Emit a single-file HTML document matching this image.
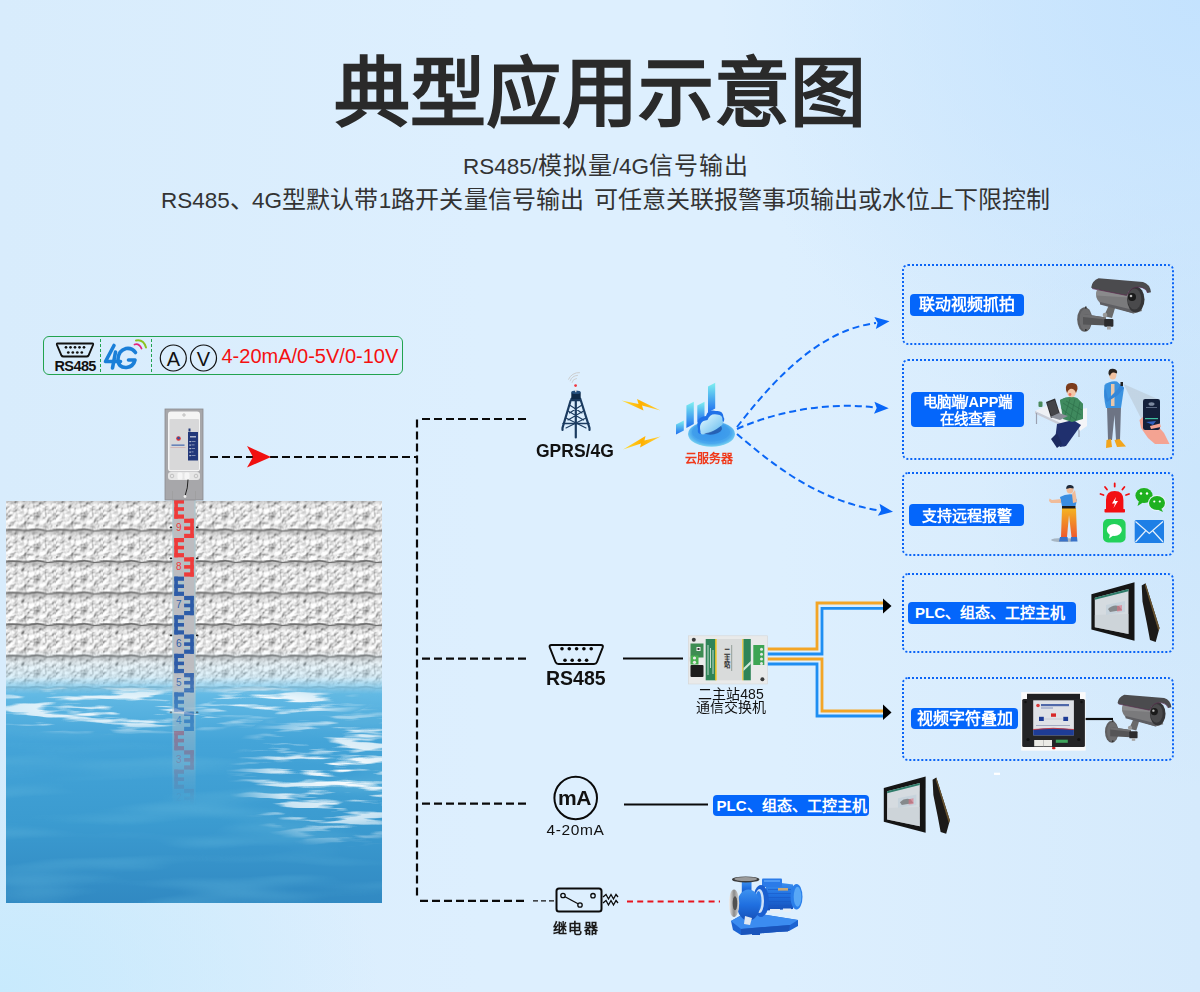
<!DOCTYPE html>
<html lang="zh-CN">
<head>
<meta charset="utf-8">
<title>典型应用示意图</title>
<style>
html,body{margin:0;padding:0;}
body{width:1200px;height:992px;overflow:hidden;position:relative;font-family:"Liberation Sans",sans-serif;
background:
 radial-gradient(ellipse 480px 460px at 1200px 0px, rgba(195,226,254,0.95), rgba(195,226,254,0) 100%),
 radial-gradient(ellipse 220px 320px at 1200px 470px, rgba(200,228,252,0.7), rgba(200,228,252,0) 100%),
 radial-gradient(ellipse 380px 280px at 0px 992px, rgba(199,234,253,0.95), rgba(199,234,253,0) 100%),
 linear-gradient(90deg,#d8ecfc 0%,#ddeffe 40%,#ddeffe 65%,#d5eafc 100%);
}
.abs{position:absolute;}
.title{position:absolute;left:0;width:1200px;top:56px;text-align:center;font-size:76px;font-weight:bold;color:#2a2a2a;line-height:1;}
.sub{position:absolute;left:0;width:1200px;text-align:center;font-size:24px;color:#333;line-height:1;white-space:nowrap;}
.box{position:absolute;left:902px;width:268px;border:2px dotted #0a64f6;border-radius:6px;}
.pill{position:absolute;background:#0466fb;color:#fff;font-weight:bold;border-radius:4px;text-align:center;white-space:nowrap;}
.ll{font-size:22.5px;letter-spacing:0;}
.lbl{position:absolute;white-space:nowrap;color:#111;}
</style>
</head>
<body>
<div class="title">典型应用示意图</div>
<div class="sub" style="top:154px;left:463px;width:auto;letter-spacing:0.9px;"><span class="ll">RS485/</span>模拟量<span class="ll">/4G</span>信号输出</div>
<div class="sub" style="top:188px;left:161px;width:auto;"><span class="ll">RS485</span>、</div>
<div class="sub" style="top:188px;left:252px;width:auto;letter-spacing:0.15px;"><span class="ll">4G</span>型默认带<span class="ll">1</span>路开关量信号输出</div>
<div class="sub" style="top:188px;left:594px;width:auto;">可任意关联报警事项输出或水位上下限控制</div>



<!-- left scene -->
<svg class="abs" style="left:0;top:400px;" width="400" height="510" viewBox="0 400 400 510">
 <defs>
  <filter id="stoneN" x="0" y="0" width="100%" height="100%">
   <feTurbulence type="fractalNoise" baseFrequency="0.22" numOctaves="3" seed="3" result="n"/>
   <feColorMatrix in="n" type="matrix" values="0 0 0 0 0  0 0 0 0 0  0 0 0 0 0  -2.6 0 0 0 1.35" result="a"/>
   <feFlood flood-color="#7a7a7a"/>
   <feComposite in2="a" operator="in"/>
  </filter>
  <filter id="stoneW" x="0" y="0" width="100%" height="100%">
   <feTurbulence type="fractalNoise" baseFrequency="0.05 0.09" numOctaves="2" seed="5" result="n"/>
   <feColorMatrix in="n" type="matrix" values="0 0 0 0 1  0 0 0 0 1  0 0 0 0 1  3 0 0 0 -1.2"/>
  </filter>
  <filter id="tileN" x="0" y="0" width="100%" height="100%">
   <feTurbulence type="fractalNoise" baseFrequency="0.26" numOctaves="3" seed="4" stitchTiles="stitch" result="n"/>
   <feColorMatrix in="n" type="matrix" values="0 0 0 0 0.42  0 0 0 0 0.42  0 0 0 0 0.42  -3.2 0 0 0 1.62"/>
  </filter>
  <filter id="tileW" x="0" y="0" width="100%" height="100%">
   <feTurbulence type="fractalNoise" baseFrequency="0.09" numOctaves="2" seed="9" stitchTiles="stitch" result="n"/>
   <feColorMatrix in="n" type="matrix" values="0 0 0 0 1  0 0 0 0 1  0 0 0 0 1  3.2 0 0 0 -1.35"/>
  </filter>
  <linearGradient id="mortarSh" x1="0" y1="0" x2="0" y2="1">
   <stop offset="0" stop-color="#8a8a8a" stop-opacity="0.55"/>
   <stop offset="1" stop-color="#8a8a8a" stop-opacity="0"/>
  </linearGradient>
  <filter id="embF" x="0" y="0" width="100%" height="100%">
   <feTurbulence type="fractalNoise" baseFrequency="0.16" numOctaves="4" seed="2" stitchTiles="stitch" result="n"/>
   <feDiffuseLighting in="n" surfaceScale="2.6" lighting-color="#ffffff" diffuseConstant="1" result="l"><feDistantLight azimuth="235" elevation="50"/></feDiffuseLighting>
   <feComponentTransfer><feFuncR type="linear" slope="1.08" intercept="-0.03"/><feFuncG type="linear" slope="1.08" intercept="-0.03"/><feFuncB type="linear" slope="1.08" intercept="-0.03"/></feComponentTransfer>
  </filter>
  <pattern id="stoneP" patternUnits="userSpaceOnUse" x="8" y="529.5" width="47" height="31.5">
   <rect width="47" height="31.5" filter="url(#embF)"/>
   <rect y="1" width="47" height="6" fill="url(#mortarSh)"/>
   <path d="M0 0.5 Q6 0 12 0.7 T24 0.5 T36 0.8 T47 0.5" stroke="#707070" stroke-width="1.3" fill="none"/>
   <path d="M0 31.5 Q6 31 12 31.7 T24 31.5 T36 31.8 T47 31.5" stroke="#707070" stroke-width="1.3" fill="none"/>
  </pattern>
  <filter id="waterN" x="0" y="0" width="100%" height="100%">
   <feTurbulence type="fractalNoise" baseFrequency="0.018 0.16" numOctaves="3" seed="7" result="n"/>
   <feColorMatrix in="n" type="matrix" values="0 0 0 0 1  0 0 0 0 1  0 0 0 0 1  6 0 0 0 -2.95"/>
  </filter>
  <filter id="waterD" x="0" y="0" width="100%" height="100%">
   <feTurbulence type="fractalNoise" baseFrequency="0.006 0.045" numOctaves="2" seed="11" result="n"/>
   <feColorMatrix in="n" type="matrix" values="0 0 0 0 0.12  0 0 0 0 0.47  0 0 0 0 0.72  -3 0 0 0 1.6"/>
  </filter>
  <linearGradient id="wg" x1="0" y1="0" x2="0" y2="1">
   <stop offset="0" stop-color="#86cdee"/>
   <stop offset="0.1" stop-color="#62b9e4"/>
   <stop offset="0.3" stop-color="#44a4d8"/>
   <stop offset="0.65" stop-color="#3b9bd0"/>
   <stop offset="1" stop-color="#3189c2"/>
  </linearGradient>
  <linearGradient id="tintS" x1="0" y1="0" x2="0" y2="1">
   <stop offset="0" stop-color="#a8dcf4" stop-opacity="0"/>
   <stop offset="1" stop-color="#a8dcf4" stop-opacity="0.75"/>
  </linearGradient>
  <linearGradient id="fadeS" x1="0" y1="0" x2="0" y2="1">
   <stop offset="0" stop-color="#fff"/>
   <stop offset="0.88" stop-color="#fff"/>
   <stop offset="0.965" stop-color="#000"/>
  </linearGradient>
  <mask id="stoneMask" maskUnits="userSpaceOnUse" x="6" y="501" width="376" height="200"><rect x="6" y="501" width="376" height="200" fill="url(#fadeS)"/></mask>
  <radialGradient id="rgW"><stop offset="0" stop-color="#fff"/><stop offset="0.6" stop-color="#bbb"/><stop offset="1" stop-color="#000"/></radialGradient>
  <mask id="hlM" maskUnits="userSpaceOnUse" x="6" y="660" width="376" height="243">
   <rect x="6" y="660" width="376" height="243" fill="#000"/>
   <ellipse cx="120" cy="708" rx="190" ry="28" fill="url(#rgW)"/>
   <ellipse cx="345" cy="775" rx="120" ry="75" fill="url(#rgW)"/>
   <ellipse cx="270" cy="702" rx="100" ry="18" fill="url(#rgW)"/>
  </mask>
  <linearGradient id="poleFade" x1="0" y1="0" x2="0" y2="1">
   <stop offset="0" stop-color="#fff"/>
   <stop offset="0.55" stop-color="#fff"/>
   <stop offset="0.7" stop-color="#888"/>
   <stop offset="1" stop-color="#000"/>
  </linearGradient>
  <mask id="poleM" maskUnits="userSpaceOnUse" x="160" y="495" width="50" height="310"><rect x="160" y="495" width="50" height="310" fill="url(#poleFade)"/></mask>
 </defs>
 <!-- water -->
 <rect x="6" y="672" width="376" height="231" fill="url(#wg)"/>
 <rect x="6" y="672" width="376" height="231" filter="url(#waterD)" opacity="0.45"/>
 <g mask="url(#hlM)"><rect x="6" y="660" width="376" height="243" filter="url(#waterN)"/></g>
 <!-- stone -->
 <g mask="url(#stoneMask)">
  <rect x="6" y="501" width="376" height="200" fill="url(#stoneP)"/>
  <rect x="6" y="650" width="376" height="51" fill="url(#tintS)"/>
 </g>
 <!-- pole -->
 <g mask="url(#poleM)">
  <rect x="172.5" y="496" width="23" height="310" fill="#bcbcc0"/>
  <g id="emarks"><g fill="#ee3b3b"><rect x="174.3" y="499.4" width="3.6" height="19.3"/><rect x="174.3" y="499.4" width="9.7" height="4.2"/><rect x="174.3" y="507.2" width="9.7" height="3.6"/><rect x="174.3" y="514.5" width="9.7" height="4.2"/><rect x="190.2" y="518.7" width="3.6" height="19.3"/><rect x="184.1" y="518.7" width="9.7" height="4.2"/><rect x="184.1" y="526.5" width="9.7" height="3.6"/><rect x="184.1" y="533.8" width="9.7" height="4.2"/><text x="178.8" y="531.2" font-size="10" text-anchor="middle" font-family="Liberation Sans, sans-serif">9</text></g>
<g fill="#93d3de" opacity="0.9"><rect x="178.1" y="504.7" width="5.9" height="0.55"/><rect x="178.1" y="506.0" width="5.9" height="0.55"/><rect x="178.1" y="512.0" width="5.9" height="0.55"/><rect x="178.1" y="513.3" width="5.9" height="0.55"/><rect x="184.1" y="524.0" width="5.9" height="0.55"/><rect x="184.1" y="525.3" width="5.9" height="0.55"/><rect x="184.1" y="531.3" width="5.9" height="0.55"/><rect x="184.1" y="532.6" width="5.9" height="0.55"/></g>
<g fill="#ee3b3b"><rect x="174.3" y="538.0" width="3.6" height="19.3"/><rect x="174.3" y="538.0" width="9.7" height="4.2"/><rect x="174.3" y="545.8" width="9.7" height="3.6"/><rect x="174.3" y="553.1" width="9.7" height="4.2"/><rect x="190.2" y="557.3" width="3.6" height="19.3"/><rect x="184.1" y="557.3" width="9.7" height="4.2"/><rect x="184.1" y="565.1" width="9.7" height="3.6"/><rect x="184.1" y="572.4" width="9.7" height="4.2"/><text x="178.8" y="569.8" font-size="10" text-anchor="middle" font-family="Liberation Sans, sans-serif">8</text></g>
<g fill="#93d3de" opacity="0.9"><rect x="178.1" y="543.3" width="5.9" height="0.55"/><rect x="178.1" y="544.6" width="5.9" height="0.55"/><rect x="178.1" y="550.6" width="5.9" height="0.55"/><rect x="178.1" y="551.9" width="5.9" height="0.55"/><rect x="184.1" y="562.6" width="5.9" height="0.55"/><rect x="184.1" y="563.9" width="5.9" height="0.55"/><rect x="184.1" y="569.9" width="5.9" height="0.55"/><rect x="184.1" y="571.2" width="5.9" height="0.55"/></g>
<g fill="#2d5ca8"><rect x="174.3" y="576.6" width="3.6" height="19.3"/><rect x="174.3" y="576.6" width="9.7" height="4.2"/><rect x="174.3" y="584.4" width="9.7" height="3.6"/><rect x="174.3" y="591.7" width="9.7" height="4.2"/><rect x="190.2" y="595.9" width="3.6" height="19.3"/><rect x="184.1" y="595.9" width="9.7" height="4.2"/><rect x="184.1" y="603.7" width="9.7" height="3.6"/><rect x="184.1" y="611.0" width="9.7" height="4.2"/><text x="178.8" y="608.4" font-size="10" text-anchor="middle" font-family="Liberation Sans, sans-serif">7</text></g>
<g fill="#93d3de" opacity="0.9"><rect x="178.1" y="581.9" width="5.9" height="0.55"/><rect x="178.1" y="583.2" width="5.9" height="0.55"/><rect x="178.1" y="589.2" width="5.9" height="0.55"/><rect x="178.1" y="590.5" width="5.9" height="0.55"/><rect x="184.1" y="601.2" width="5.9" height="0.55"/><rect x="184.1" y="602.5" width="5.9" height="0.55"/><rect x="184.1" y="608.5" width="5.9" height="0.55"/><rect x="184.1" y="609.8" width="5.9" height="0.55"/></g>
<g fill="#2d5ca8"><rect x="174.3" y="615.2" width="3.6" height="19.3"/><rect x="174.3" y="615.2" width="9.7" height="4.2"/><rect x="174.3" y="623.0" width="9.7" height="3.6"/><rect x="174.3" y="630.3" width="9.7" height="4.2"/><rect x="190.2" y="634.5" width="3.6" height="19.3"/><rect x="184.1" y="634.5" width="9.7" height="4.2"/><rect x="184.1" y="642.3" width="9.7" height="3.6"/><rect x="184.1" y="649.6" width="9.7" height="4.2"/><text x="178.8" y="647.0" font-size="10" text-anchor="middle" font-family="Liberation Sans, sans-serif">6</text></g>
<g fill="#93d3de" opacity="0.9"><rect x="178.1" y="620.5" width="5.9" height="0.55"/><rect x="178.1" y="621.8" width="5.9" height="0.55"/><rect x="178.1" y="627.8" width="5.9" height="0.55"/><rect x="178.1" y="629.1" width="5.9" height="0.55"/><rect x="184.1" y="639.8" width="5.9" height="0.55"/><rect x="184.1" y="641.1" width="5.9" height="0.55"/><rect x="184.1" y="647.1" width="5.9" height="0.55"/><rect x="184.1" y="648.4" width="5.9" height="0.55"/></g>
<g fill="#2d5ca8"><rect x="174.3" y="653.8" width="3.6" height="19.3"/><rect x="174.3" y="653.8" width="9.7" height="4.2"/><rect x="174.3" y="661.6" width="9.7" height="3.6"/><rect x="174.3" y="668.9" width="9.7" height="4.2"/><rect x="190.2" y="673.1" width="3.6" height="19.3"/><rect x="184.1" y="673.1" width="9.7" height="4.2"/><rect x="184.1" y="680.9" width="9.7" height="3.6"/><rect x="184.1" y="688.2" width="9.7" height="4.2"/><text x="178.8" y="685.6" font-size="10" text-anchor="middle" font-family="Liberation Sans, sans-serif">5</text></g>
<g fill="#93d3de" opacity="0.9"><rect x="178.1" y="659.1" width="5.9" height="0.55"/><rect x="178.1" y="660.4" width="5.9" height="0.55"/><rect x="178.1" y="666.4" width="5.9" height="0.55"/><rect x="178.1" y="667.7" width="5.9" height="0.55"/><rect x="184.1" y="678.4" width="5.9" height="0.55"/><rect x="184.1" y="679.7" width="5.9" height="0.55"/><rect x="184.1" y="685.7" width="5.9" height="0.55"/><rect x="184.1" y="687.0" width="5.9" height="0.55"/></g>
<g fill="#2d5ca8"><rect x="174.3" y="692.4" width="3.6" height="19.3"/><rect x="174.3" y="692.4" width="9.7" height="4.2"/><rect x="174.3" y="700.2" width="9.7" height="3.6"/><rect x="174.3" y="707.5" width="9.7" height="4.2"/><rect x="190.2" y="711.7" width="3.6" height="19.3"/><rect x="184.1" y="711.7" width="9.7" height="4.2"/><rect x="184.1" y="719.5" width="9.7" height="3.6"/><rect x="184.1" y="726.8" width="9.7" height="4.2"/><text x="178.8" y="724.2" font-size="10" text-anchor="middle" font-family="Liberation Sans, sans-serif">4</text></g>
<g fill="#93d3de" opacity="0.9"><rect x="178.1" y="697.7" width="5.9" height="0.55"/><rect x="178.1" y="699.0" width="5.9" height="0.55"/><rect x="178.1" y="705.0" width="5.9" height="0.55"/><rect x="178.1" y="706.3" width="5.9" height="0.55"/><rect x="184.1" y="717.0" width="5.9" height="0.55"/><rect x="184.1" y="718.3" width="5.9" height="0.55"/><rect x="184.1" y="724.3" width="5.9" height="0.55"/><rect x="184.1" y="725.6" width="5.9" height="0.55"/></g>
<g fill="#ee3b3b"><rect x="174.3" y="731.0" width="3.6" height="19.3"/><rect x="174.3" y="731.0" width="9.7" height="4.2"/><rect x="174.3" y="738.8" width="9.7" height="3.6"/><rect x="174.3" y="746.1" width="9.7" height="4.2"/><rect x="190.2" y="750.3" width="3.6" height="19.3"/><rect x="184.1" y="750.3" width="9.7" height="4.2"/><rect x="184.1" y="758.1" width="9.7" height="3.6"/><rect x="184.1" y="765.4" width="9.7" height="4.2"/><text x="178.8" y="762.8" font-size="10" text-anchor="middle" font-family="Liberation Sans, sans-serif">3</text></g>
<g fill="#93d3de" opacity="0.9"><rect x="178.1" y="736.3" width="5.9" height="0.55"/><rect x="178.1" y="737.6" width="5.9" height="0.55"/><rect x="178.1" y="743.6" width="5.9" height="0.55"/><rect x="178.1" y="744.9" width="5.9" height="0.55"/><rect x="184.1" y="755.6" width="5.9" height="0.55"/><rect x="184.1" y="756.9" width="5.9" height="0.55"/><rect x="184.1" y="762.9" width="5.9" height="0.55"/><rect x="184.1" y="764.2" width="5.9" height="0.55"/></g>
<g fill="#ee3b3b"><rect x="174.3" y="769.6" width="3.6" height="19.3"/><rect x="174.3" y="769.6" width="9.7" height="4.2"/><rect x="174.3" y="777.4" width="9.7" height="3.6"/><rect x="174.3" y="784.7" width="9.7" height="4.2"/><rect x="190.2" y="788.9" width="3.6" height="19.3"/><rect x="184.1" y="788.9" width="9.7" height="4.2"/><rect x="184.1" y="796.7" width="9.7" height="3.6"/><rect x="184.1" y="804.0" width="9.7" height="4.2"/><text x="178.8" y="801.4" font-size="10" text-anchor="middle" font-family="Liberation Sans, sans-serif">2</text></g>
<g fill="#93d3de" opacity="0.9"><rect x="178.1" y="774.9" width="5.9" height="0.55"/><rect x="178.1" y="776.2" width="5.9" height="0.55"/><rect x="178.1" y="782.2" width="5.9" height="0.55"/><rect x="178.1" y="783.5" width="5.9" height="0.55"/><rect x="184.1" y="794.2" width="5.9" height="0.55"/><rect x="184.1" y="795.5" width="5.9" height="0.55"/><rect x="184.1" y="801.5" width="5.9" height="0.55"/><rect x="184.1" y="802.8" width="5.9" height="0.55"/></g>
<rect x="172.6" y="496" width="0.7" height="310" fill="#9fd6e0" opacity="0.8"/><rect x="194.6" y="496" width="0.7" height="310" fill="#9fd6e0" opacity="0.8"/>
<g fill="#222"><rect x="169.8" y="526.5" width="2.4" height="1.8" rx="0.6"/><rect x="196" y="526.5" width="2.4" height="1.8" rx="0.6"/><rect x="169.8" y="557.5" width="2.4" height="1.8" rx="0.6"/><rect x="196" y="557.5" width="2.4" height="1.8" rx="0.6"/><rect x="169.8" y="634.5" width="2.4" height="1.8" rx="0.6"/><rect x="196" y="634.5" width="2.4" height="1.8" rx="0.6"/><rect x="169.8" y="711.5" width="2.4" height="1.8" rx="0.6"/><rect x="196" y="711.5" width="2.4" height="1.8" rx="0.6"/></g></g>
 </g>
 <!-- device -->
 <rect x="165" y="409" width="38" height="91" fill="#a7a7aa" stroke="#8a8a8e" stroke-width="0.8"/>
 <rect x="168" y="411.5" width="32" height="60" rx="3" fill="#f4f4f4"/>
 <rect x="169.5" y="419" width="29.5" height="51" rx="1" fill="#d8d8d9"/>
 <circle cx="184" cy="415" r="1.2" fill="none" stroke="#999" stroke-width="0.6"/>
 <rect x="188" y="432" width="10" height="28.5" fill="#23387a"/>
 <rect x="188.5" y="428.5" width="2" height="3" fill="#23387a"/>
 <g fill="#fff" opacity="0.9"><rect x="189.5" y="441" width="1.2" height="1.2"/><rect x="189.5" y="444.5" width="1.2" height="1.2"/><rect x="189.5" y="448" width="1.2" height="1.2"/><rect x="189.5" y="451.5" width="1.2" height="1.2"/><rect x="189.5" y="455" width="1.2" height="1.2"/>
 <rect x="191.5" y="441" width="4" height="0.8" opacity="0.6"/><rect x="191.5" y="444.5" width="3" height="0.8" opacity="0.6"/><rect x="191.5" y="448" width="3.5" height="0.8" opacity="0.6"/><rect x="191.5" y="451.5" width="2" height="0.8" opacity="0.6"/><rect x="191.5" y="455" width="4" height="0.8" opacity="0.6"/>
 <rect x="190" y="436" width="6" height="1.5" opacity="0.7"/></g>
 <circle cx="178.5" cy="438.5" r="2.3" fill="#d8313a"/>
 <circle cx="178.5" cy="438" r="1.3" fill="#2a56a8"/>
 <rect x="171.5" y="444.5" width="13" height="1.3" fill="#2a56a8" opacity="0.8"/>
 <rect x="170.5" y="447" width="15" height="0.5" fill="#c88" opacity="0.8"/>
 <rect x="168" y="472" width="32" height="8" rx="3" fill="#e6e6e6"/>
 <circle cx="172" cy="476" r="1.8" fill="none" stroke="#aaa" stroke-width="0.6"/>
 <circle cx="196" cy="476" r="1.8" fill="none" stroke="#aaa" stroke-width="0.6"/>
 <rect x="177.5" y="472.5" width="5" height="7" rx="1.5" fill="#f6f6f6"/><rect x="184.5" y="472.5" width="5" height="7" rx="1.5" fill="#f6f6f6"/>
 <path d="M188 479.5 Q188 488 185 496" stroke="#222" stroke-width="1" fill="none"/>
 <circle cx="185" cy="496.5" r="1.4" fill="#eee"/>
 <line x1="172.5" y1="491" x2="172.5" y2="500" stroke="#999" stroke-width="0.5"/>
 <line x1="195.5" y1="491" x2="195.5" y2="500" stroke="#999" stroke-width="0.5"/>
</svg>

<!-- info box -->
<div class="abs" style="left:43px;top:336px;width:358px;height:37px;border:1.5px solid #22a34f;border-radius:6px;"></div>
<svg class="abs" style="left:40px;top:330px;" width="370" height="50" viewBox="40 330 370 50">
 <!-- DB9 -->
 <path d="M57.5 343.5 H92.5 Q93.5 343.5 93 345 L88.5 355.5 Q88 356.5 86.5 356.5 H63.5 Q62 356.5 61.5 355.5 L57 345 Q56.5 343.5 57.5 343.5 Z" fill="none" stroke="#111" stroke-width="1.9"/>
 <g fill="#111"><circle cx="66" cy="347.3" r="1.35"/><circle cx="70.5" cy="347.3" r="1.35"/><circle cx="75" cy="347.3" r="1.35"/><circle cx="79.5" cy="347.3" r="1.35"/><circle cx="84" cy="347.3" r="1.35"/>
 <circle cx="68.3" cy="352.5" r="1.35"/><circle cx="72.8" cy="352.5" r="1.35"/><circle cx="77.3" cy="352.5" r="1.35"/><circle cx="81.8" cy="352.5" r="1.35"/></g>
 <!-- separators -->
 <line x1="100.5" y1="339" x2="100.5" y2="373" stroke="#22a34f" stroke-width="1" stroke-dasharray="3 2"/>
 <line x1="151.5" y1="339" x2="151.5" y2="373" stroke="#22a34f" stroke-width="1" stroke-dasharray="3 2"/>
 <!-- 4G -->
 <g fill="none" stroke="#1a7fd8" stroke-width="3.6" stroke-linecap="round" stroke-linejoin="round">
  <path d="M114 345.5 L105.5 361.5 H120.5"/>
  <path d="M115.5 352 L112.5 368"/>
  <path d="M135.5 352.5 Q132 347.5 126 348.5 Q118.5 350.5 118 359 Q118 368 126.5 367.5 Q133.5 366.5 135 360 H128.5"/>
 </g>
 <path d="M134.5 344.5 Q139 343 141.5 348.5" fill="none" stroke="#e4247e" stroke-width="1.8" stroke-linecap="round"/>
 <path d="M136 340.5 Q143.5 339 146 347.5" fill="none" stroke="#8cc21f" stroke-width="2" stroke-linecap="round"/>
 <!-- A V circles -->
 <circle cx="173.3" cy="358" r="13" fill="none" stroke="#111" stroke-width="1.2"/>
 <circle cx="203.5" cy="358" r="13" fill="none" stroke="#111" stroke-width="1.2"/>
 <text x="173.3" y="365.5" text-anchor="middle" font-family="Liberation Sans, sans-serif" font-size="20" fill="#111">A</text>
 <text x="203.5" y="365.5" text-anchor="middle" font-family="Liberation Sans, sans-serif" font-size="20" fill="#111">V</text>
</svg>
<div class="lbl" style="left:54.5px;top:358px;font-size:14.5px;font-weight:bold;line-height:16px;letter-spacing:-0.6px;">RS485</div>
<div class="lbl" style="left:221.5px;top:344.5px;font-size:20px;line-height:22px;color:#f51010;">4-20mA/0-5V/0-10V</div>


<!-- connectors overlay -->
<svg class="abs" style="left:0;top:0;" width="1200" height="992" viewBox="0 0 1200 992">
 <defs>
  <path id="arrowB" d="M0 0 L-14.5 -6 L-12 0 L-14.5 6 Z"/>
 </defs>
 <g stroke="#0a0a0a" stroke-width="2.2" fill="none" stroke-dasharray="8 4">
  <path d="M210 457 H416"/>
  <path d="M417 419.6 V897"/>
  <path d="M422 419 H527"/>
  <path d="M422 658.7 H527"/>
  <path d="M422 803.6 H527"/>
  <path d="M420 900.8 H527"/>
 </g>
 <path d="M533 900.8 H556" stroke="#111" stroke-width="1.3" stroke-dasharray="5 3" fill="none"/>
 <path d="M247 446 L271 457 L247 467.5 L253 457 Z" fill="#f01010"/>
 <g stroke="#0a0a0a" stroke-width="2.2" fill="none">
  <path d="M623 658.5 H683"/>
  <path d="M624 804.5 H708"/>
  <path d="M1085 719 H1113"/>
 </g>
 <path d="M627 901.5 H720" stroke="#e8141e" stroke-width="2.2" stroke-dasharray="6 4.2" fill="none"/>
 <!-- wires -->
 <g fill="none" stroke-width="2.8">
  <path d="M764 649 H817 V603 H884" stroke="#f3a526"/>
  <path d="M764 654 H822 V608.3 H884" stroke="#1e8ef2"/>
  <path d="M764 659 H822 V711 H884" stroke="#f3a526"/>
  <path d="M764 664 H817 V716 H884" stroke="#1e8ef2"/>
 </g>
 <path d="M883 598.5 L891.5 606 L883 613.5 Z" fill="#000"/>
 <path d="M883 704.5 L891.5 712.5 L883 720 Z" fill="#000"/>
 <!-- blue curves -->
 <g fill="none" stroke="#0a66f6" stroke-width="2" stroke-dasharray="7 4">
  <path d="M737 427 C775 378 820 330 876 323"/>
  <path d="M737 429 C780 410 830 402 876 407.5"/>
  <path d="M737 434 C770 462 815 500 879 510.5"/>
 </g>


 <!-- DB9 RS485 -->
 <path d="M551.5 645 H601 Q603.5 645 602.7 647.5 L597 662 Q596.2 664 594 664 H558.5 Q556.3 664 555.5 662 L549.8 647.5 Q549 645 551.5 645 Z" fill="none" stroke="#0a0a0a" stroke-width="2"/>
 <g fill="#0a0a0a"><circle cx="562" cy="648.8" r="1.8"/><circle cx="569.3" cy="648.8" r="1.8"/><circle cx="576.6" cy="648.8" r="1.8"/><circle cx="583.9" cy="648.8" r="1.8"/><circle cx="591.2" cy="648.8" r="1.8"/>
 <circle cx="565" cy="660.3" r="1.8"/><circle cx="572.2" cy="660.3" r="1.8"/><circle cx="579.4" cy="660.3" r="1.8"/><circle cx="586.6" cy="660.3" r="1.8"/></g>
 <!-- mA circle -->
 <circle cx="575.7" cy="798" r="21.3" fill="none" stroke="#0a0a0a" stroke-width="2"/>
 <!-- relay -->
 <rect x="556.5" y="888.5" width="45" height="23" rx="2.5" fill="none" stroke="#0a0a0a" stroke-width="2"/>
 <g fill="none" stroke="#0a0a0a" stroke-width="1.3">
  <circle cx="563" cy="895.5" r="2.2"/><circle cx="580" cy="905" r="2.2"/><circle cx="593" cy="895.7" r="2.2"/>
  <path d="M565 896.7 L578 903.8"/>
  <path d="M603 897 L606 894.5 L608.5 899 L611 894.5 L613.5 899 L616 894.5 L618 897"/>
  <path d="M603 903 L606 900.5 L608.5 905 L611 900.5 L613.5 905 L616 900.5 L618 903"/>
 </g>
 <!-- tower -->
 <g>
  <g fill="none" stroke="#c9c9c9" stroke-width="0.9" stroke-linecap="round">
   <path d="M572 382.5 A5 5 0 0 1 576.5 378.5"/>
   <path d="M570.2 380.8 A8 8 0 0 1 577.5 375.4"/>
   <path d="M568.5 379.3 A11 11 0 0 1 579.5 372.6"/>
  </g>
  <circle cx="575.6" cy="385.6" r="1.4" fill="#f2353f"/>
  <rect x="575" y="387" width="1.3" height="5" fill="#f0f0f0"/>
  <g stroke="#1b3b60" fill="none" stroke-linecap="round">
   <path d="M570.5 401 L562.5 428 V430" stroke-width="2.2"/>
   <path d="M581 401 L589.5 428 V430" stroke-width="2.2"/>
   <path d="M575.8 400 V437.5" stroke-width="2.2"/>
   <path d="M563 423.5 H589" stroke-width="1.3"/>
   <path d="M569.5 405 L582 413 M582 405 L569.5 413 M568 411 L583.5 420 M583.5 411 L568 420 M566 418 L586 428 M586 418 L566 428" stroke-width="1.1"/>
  </g>
  <rect x="570.2" y="397.5" width="11.4" height="3.8" rx="1.8" fill="#1b3b60"/>
  <rect x="571.3" y="392" width="9.4" height="7" rx="1" fill="#0f2a48"/>
  <ellipse cx="576" cy="392.3" rx="4.7" ry="1.8" fill="#234e7c"/>
  <rect x="575.2" y="389" width="1.2" height="3.2" fill="#eaeaea"/>
 </g>
 <!-- lightning -->
 <defs>
  <linearGradient id="ltg" x1="0" y1="0" x2="1" y2="0"><stop offset="0" stop-color="#ffe13a"/><stop offset="0.5" stop-color="#ffb000"/><stop offset="1" stop-color="#ffd23a"/></linearGradient>
 </defs>
 <path d="M621.5 400.5 L638.5 404 L637 399 L660.5 410.5 L642 405.5 L643.5 410.5 Z" fill="url(#ltg)"/>
 <path d="M623 449.5 L641 443.5 L640 447.5 L660.5 436.5 L644.5 440.5 L645.5 436 Z" fill="url(#ltg)"/>
 <!-- cloud server -->
 <defs>
  <linearGradient id="barg" x1="0" y1="0" x2="0" y2="1"><stop offset="0" stop-color="#7ef0f0"/><stop offset="1" stop-color="#1f6ff0"/></linearGradient>
  <radialGradient id="baseg" cx="0.5" cy="0.45" r="0.6"><stop offset="0" stop-color="#2c8ef0"/><stop offset="0.7" stop-color="#4aa8ee"/><stop offset="1" stop-color="#8ee6f2"/></radialGradient>
  <linearGradient id="cldg" x1="0" y1="0" x2="1" y2="1"><stop offset="0" stop-color="#e8fbff"/><stop offset="1" stop-color="#5fb8ee"/></linearGradient>
 </defs>
 <path d="M676 424.5 L683.8 420.5 V430.5 L676 434.5 Z" fill="url(#barg)"/>
 <path d="M686.4 405.5 L693.8 401.8 V424 L686.4 428 Z" fill="url(#barg)"/>
 <path d="M697.3 405.5 L704.5 401.8 V418 L697.3 422 Z" fill="url(#barg)"/>
 <path d="M708 386.5 L715.2 382.8 V408.5 L708 412.5 Z" fill="url(#barg)"/>
 <ellipse cx="711.5" cy="434" rx="23.5" ry="12.8" fill="url(#baseg)"/>
 <ellipse cx="711" cy="432" rx="19" ry="9.5" fill="#3c9aea" opacity="0.6"/>
 <path d="M698 429 Q695 417 706 416 Q708 409 716 411 Q723 410 723.5 417 Q726 420 721 425 Q712 433 700 434 Q697 433 698 429 Z" fill="#1f70e8"/>
 <path d="M700.5 431.5 Q698 421 707.5 420 Q710 413 717 414.5 Q723 414.5 722.5 420.5 Q725 424 718 428 Q712 433 703 434.5 Q700 434 700.5 431.5 Z" fill="url(#cldg)"/>
 <path d="M704 433.5 Q714 432 721 426 Q724 430 718 433 Q711 436 704 433.5 Z" fill="#1b3d8f" opacity="0.6"/>
 <g fill="#0866f8">
  <use href="#arrowB" transform="translate(889.5 321.3) rotate(-7)"/>
  <use href="#arrowB" transform="translate(888.7 408.3) rotate(2)"/>
  <use href="#arrowB" transform="translate(893 511.8) rotate(8)"/>
 </g>
</svg>


<div class="lbl" style="left:536px;top:440.5px;font-size:17.5px;font-weight:bold;line-height:20px;">GPRS/4G</div>
<div class="lbl" style="left:685px;top:452px;font-size:12px;font-weight:bold;line-height:14px;color:#f0381a;">云服务器</div>


<div class="lbl" style="left:546px;top:667px;font-size:19.5px;font-weight:bold;line-height:22px;">RS485</div>
<div class="lbl" style="left:558px;top:786px;font-size:21px;font-weight:bold;line-height:24px;letter-spacing:-0.5px;">mA</div>
<div class="lbl" style="left:546.5px;top:822px;font-size:15.5px;line-height:16px;letter-spacing:0.6px;font-weight:500;">4-20mA</div>
<div class="lbl" style="left:552.5px;top:918.5px;font-size:14px;font-weight:bold;line-height:18px;color:#1a1a1a;letter-spacing:1.6px;">继电器</div>
<div class="lbl" style="left:696px;top:687.5px;font-size:14px;line-height:13.5px;text-align:center;width:70px;font-weight:500;">二主站485<br>通信交换机</div>

<!-- right boxes -->
<div class="box" style="top:264px;height:77px;"></div>
<div class="box" style="top:359px;height:97px;"></div>
<div class="box" style="top:472px;height:80px;"></div>
<div class="box" style="top:573px;height:76px;"></div>
<div class="box" style="top:677px;height:80px;"></div>

<div class="pill" style="left:910px;top:294px;width:114px;height:22px;line-height:22px;font-size:16px;">联动视频抓拍</div>
<div class="pill" style="left:911px;top:392px;width:113px;height:35px;line-height:17.5px;font-size:14.5px;padding-top:1.5px;box-sizing:border-box;">电脑端/APP端<br>在线查看</div>
<div class="pill" style="left:909px;top:504px;width:115px;height:22px;line-height:23px;font-size:15px;">支持远程报警</div>
<div class="pill" style="left:908px;top:602px;width:168px;height:22px;line-height:22px;font-size:15px;text-align:left;padding-left:7px;box-sizing:border-box;">PLC、组态、工控主机</div>
<div class="pill" style="left:911px;top:708px;width:107px;height:21px;line-height:22px;font-size:16px;">视频字符叠加</div>
<div class="pill" style="left:713px;top:795px;width:156px;height:21px;line-height:21px;font-size:15px;text-align:left;padding-left:3.5px;box-sizing:border-box;">PLC、组态、工控主机</div>


<!-- icons overlay -->
<svg class="abs" style="left:0;top:0;" width="1200" height="992" viewBox="0 0 1200 992">
 <defs>
  <g id="cam">
   <ellipse cx="1084.7" cy="319.5" rx="7.5" ry="12.2" fill="#5f5f61"/>
   <ellipse cx="1085.5" cy="319.5" rx="6" ry="10.8" fill="#6c6c6e"/>
   <rect x="1085" y="306.5" width="1.6" height="2" fill="#333"/><rect x="1085" y="329" width="1.6" height="2" fill="#333"/>
   <path d="M1083 314 L1106 317.5 L1106 325.5 L1083 324.5 Z" fill="#555557"/>
   <path d="M1083 314 L1106 317.5 L1106 319.5 L1083 317 Z" fill="#6e6e70"/>
   <path d="M1104 316 L1109 305 L1116 305 L1112 318 Z" fill="#6a6a6a"/>
   <circle cx="1105" cy="315" r="2.3" fill="#9a9a9a"/>
   <rect x="1104.2" y="318.9" width="9.2" height="7.8" rx="1" fill="#2c2c2e"/>
   <rect x="1107" y="326.5" width="3.8" height="3" fill="#a8a8a8"/>
   <path d="M1097 290 L1136 292.5 L1142 311 L1133.6 313.5 L1100 303 Q1094 297 1097 290 Z" fill="#7a7a7c"/>
   <path d="M1097 290 L1136 292.5 L1137 298 L1096 295.5 Z" fill="#8a8a8c"/>
   <path d="M1100 302 L1133.6 310 L1133.6 313.5 L1100 304.5 Z" fill="#5e5e62"/>
   <ellipse cx="1135.8" cy="299.5" rx="8.7" ry="13" fill="#353537"/>
   <ellipse cx="1134.5" cy="299" rx="6.8" ry="10.5" fill="#4a4a4c"/>
   <circle cx="1132" cy="297" r="4" fill="#1a1a1a"/>
   <circle cx="1131" cy="296" r="1.3" fill="#bbb"/>
   <path d="M1091.2 287.4 Q1092 281 1098.6 278.3 L1143 282 Q1150 284 1151 292.3 L1147.6 293 Q1146 288 1140 287.2 Q1131 286 1126.6 295.4 L1092.3 288.6 Z" fill="#4b4b4e"/>
   <path d="M1092.3 288.6 L1126.6 295.4 Q1131 286 1140 287.2 Q1146 288 1147.6 293" fill="none" stroke="#5b2a4e" stroke-width="0.7"/>
  </g>
  <g id="mon">
   <path d="M1091.4 594.3 L1134.5 582.2 L1134.5 640.8 L1091.4 629.5 Z" fill="#151515"/>
   <path d="M1094.8 597.7 L1128.5 589 L1128.5 634 L1094.8 627.2 Z" fill="#d5dbe0"/>
   <path d="M1094.8 597.7 L1128.5 589 L1128.5 591.2 L1094.8 599.7 Z" fill="#2e7c6a"/>
   <path d="M1106 605 L1125 601 L1125 612 L1106 615 Z" fill="#c7d3dc"/>
   <path d="M1108 609 Q1113 604 1119 606 L1122 610 L1110 612 Z" fill="#6a6a6a" opacity="0.7"/>
   <path d="M1117 606 L1122 605 L1122 611 L1117 611.5 Z" fill="#e07080" opacity="0.6"/>
   <path d="M1094.8 615 L1128.5 614 L1128.5 634 L1094.8 627.2 Z" fill="#c8ced4" opacity="0.6"/>
   <path d="M1141.7 585.6 L1145.5 583.3 L1159.5 628 L1155.7 642 L1150 640 L1147 624 L1142.5 601.5 Z" fill="#1c1a18"/>
   <path d="M1145.5 583.3 L1159.5 628 L1158.5 631 L1145 586 Z" fill="#6a5430"/>
  </g>
 </defs>
 <use href="#cam"/>
 <use href="#cam" transform="translate(1100.3 689.1) scale(0.9) translate(-1072 -272)"/>
 <use href="#mon"/>
 <use href="#mon" transform="translate(883.8 776.4) scale(0.97 0.96) translate(-1091.4 -582.2)"/>


 <!-- box2: sitting person -->
 <g>
  <path d="M1035 411 L1050 404 L1082 418 L1067 426 Z" fill="#eef0f4"/>
  <path d="M1035 411 L1067 426 L1067 428.5 L1035 413.5 Z" fill="#c9ccd6"/>
  <path d="M1036.5 413 V424" stroke="#9aa0b0" stroke-width="1.2"/>
  <path d="M1064 427.5 V447" stroke="#9aa0b0" stroke-width="1.2"/>
  <path d="M1079 421 V437" stroke="#9aa0b0" stroke-width="1.2"/>
  <rect x="1038.5" y="401.5" width="4" height="5.5" rx="1" fill="#4a8a5a"/>
  <path d="M1078 410 L1087 408 L1087 426 L1080 431 L1077 424 Z" fill="#f4f5f8"/>
  <path d="M1057 424 L1073 420 L1081 425 L1066 446 L1060 447 L1055 440 Z" fill="#20306e"/>
  <path d="M1051 439 L1057 433 L1062 444 L1057 448 Z" fill="#1c2a60"/>
  <path d="M1060 400 Q1068 395 1077 398 L1083 404 L1083 419 L1072 422 L1063 419 Z" fill="#3f8a5e"/>
  <g stroke="#2a6a46" stroke-width="0.6" opacity="0.9"><path d="M1063 403 L1081 415 M1066 401 L1082 410 M1062 409 L1076 420 M1070 399 L1064 418 M1075 399 L1070 420 M1080 402 L1076 420"/></g>
  <path d="M1046 402 L1055 398.5 L1060 414 L1051 418 Z" fill="#2d2d30"/>
  <path d="M1047 403 L1054.5 400 L1059 413 L1051.5 416 Z" fill="#444448"/>
  <path d="M1050 417 L1059 413 L1068 416 L1060 420 Z" fill="#8a8e98"/>
  <ellipse cx="1071.5" cy="392" rx="4.5" ry="5.2" fill="#f3c6a8"/>
  <path d="M1066 390 Q1065 383 1071 383 Q1078 382 1077.5 389 L1076 393 Q1074 388 1070 389 Q1068 390 1067 393 Z" fill="#7b3b1c"/>
  <circle cx="1070" cy="394.5" r="1.4" fill="#e84a3a" opacity="0.7"/>
 </g>
 <!-- box2: standing person -->
 <g>
  <path d="M1123.5 384 L1160 400 L1148 432 Z" fill="#b8c4d0" opacity="0.55"/>
  <path d="M1107 407 L1121 407 L1120 440 L1116 440 L1114.5 415 L1112 440 L1108 440 Z" fill="#6d7484"/>
  <path d="M1106.5 440 L1111 439 L1112 447 L1106 448 Z" fill="#f2a51c"/>
  <path d="M1114.5 440 L1119.5 439 L1126 446.5 L1117 447 Z" fill="#f2a51c"/>
  <path d="M1104.5 385 Q1110 380.5 1117 381.5 L1124 388 L1121 408 L1106 408 Q1103 396 1104.5 385 Z" fill="#3a92e0"/>
  <rect x="1111" y="384" width="3.5" height="22" fill="#e8c6a8"/>
  <path d="M1105.5 388 L1108 399 L1118 389 L1121 383.5 L1124 388 L1118 395 L1107 402 Q1103 398 1105.5 388 Z" fill="#3486d8"/>
  <ellipse cx="1112.8" cy="375" rx="3.7" ry="4.6" fill="#f0c2a2"/>
  <path d="M1108.5 374 Q1108 368.5 1113 368.8 Q1118 369.5 1117 373.5 L1114 372.5 Q1111 372 1110 376 Z" fill="#2a2420"/>
  <rect x="1120.5" y="382" width="2.5" height="4" fill="#222"/>
  <path d="M1139.5 420 L1144 416 L1157 425 L1164 433 L1169.5 444 L1155 444 L1148 438 L1141 428 Z" fill="#f4a392"/>
  <rect x="1143" y="399" width="17" height="31" rx="2.2" fill="#14203a"/>
  <rect x="1145" y="418" width="13" height="1.2" fill="#3fc0a0"/>
  <ellipse cx="1151.5" cy="404" rx="3" ry="1.8" fill="#7d8aa0"/>
  <rect x="1146" y="407" width="11" height="1" fill="#5c6a84"/>
  <path d="M1146 422 L1156 421 L1153 425 Z" fill="#3060c0"/>
  <path d="M1150 426 L1160 423.5 L1161 427 L1151 429 Z" fill="#f4a392"/>
 </g>
 <!-- box3: person -->
 <g>
  <defs><linearGradient id="pantsG" x1="0" y1="0" x2="0" y2="1"><stop offset="0" stop-color="#f4b523"/><stop offset="1" stop-color="#ee5a2e"/></linearGradient></defs>
  <ellipse cx="1063" cy="540" rx="12" ry="2" fill="#555" opacity="0.35"/>
  <path d="M1062 508 L1076 508 L1077 537 L1071.5 537 L1069 515 L1067 537 L1061 537 Z" fill="url(#pantsG)"/>
  <rect x="1062" y="506" width="13.5" height="2.5" fill="#1a1a1a"/>
  <path d="M1060 497 Q1066 493.5 1073 494.5 L1077 500 L1075.5 506 L1062 506 Z" fill="#3a8de0"/>
  <path d="M1061 499 L1052 500 L1049.5 498.5 L1049 501 L1051 503 L1061 503 Z" fill="#f0bc9a"/>
  <path d="M1072 494 L1075 490 L1077 502 L1073 503 Z" fill="#f0bc9a"/>
  <ellipse cx="1070" cy="489.5" rx="3.5" ry="4" fill="#f0bc9a"/>
  <path d="M1066.2 489 Q1066 484.5 1070.5 485 Q1074.5 485.5 1073.5 488.5 L1070 488 Z" fill="#1f2a3a"/>
  <path d="M1060 537 L1067.5 537 L1068 541.5 L1059 541.5 Z" fill="#3a72c8"/>
  <path d="M1071 537 L1077 537 L1077.5 541.5 L1070.5 541.5 Z" fill="#3a72c8"/>
 </g>
 <!-- alarm -->
 <g fill="#f30f12">
  <path d="M1106 509 V500 Q1106 491 1114.7 491 Q1123.4 491 1123.4 500 V509 Z"/>
  <rect x="1104.5" y="509" width="20.5" height="3.5" rx="0.8"/>
  <g stroke="#f30f12" stroke-width="1.8" stroke-linecap="round"><path d="M1114.7 483.5 V486.5 M1105 487 L1107 489.5 M1124.4 487 L1122.4 489.5 M1100.5 494 L1103.5 495 M1129 494 L1126 495"/></g>
 </g>
 <path d="M1116 497 L1112 503.5 H1115 L1113.5 508 L1118 501 H1115 Z" fill="#fff"/>
 <!-- wechat -->
 <g fill="#1fb11f">
  <ellipse cx="1144" cy="495.5" rx="8.6" ry="7.6"/>
  <path d="M1139 501 L1137.5 506 L1143 502.5 Z"/>
 </g>
 <ellipse cx="1157" cy="503" rx="9" ry="8" fill="#e8f3fc"/>
 <g fill="#1fb11f">
  <ellipse cx="1157" cy="503" rx="8" ry="7"/>
  <path d="M1161 508 L1163 512 L1157.5 509.5 Z"/>
 </g>
 <g fill="#fff"><circle cx="1141" cy="493.5" r="1.2"/><circle cx="1147" cy="493.5" r="1.2"/><circle cx="1154.3" cy="501.5" r="1.1"/><circle cx="1159.8" cy="501.5" r="1.1"/></g>
 <!-- message -->
 <rect x="1103" y="519" width="22.6" height="23.5" rx="5" fill="#23d15a"/>
 <ellipse cx="1114.3" cy="530" rx="7.5" ry="6" fill="#fff"/>
 <path d="M1110 534 L1109 538.5 L1114 535 Z" fill="#fff"/>
 <!-- mail -->
 <rect x="1134.7" y="520" width="29.3" height="23" rx="1.5" fill="#1e7fe6"/>
 <path d="M1135.5 521.5 L1149.3 533.5 L1163 521.5 M1135.5 542 L1145.5 531 M1163 542 L1153 531" fill="none" stroke="#e6f0fb" stroke-width="1.2"/>
 <!-- video overlay box -->
 <rect x="1021.2" y="692.1" width="64.4" height="58.6" fill="#fafafa"/>
 <rect x="1027" y="693.8" width="53" height="6" fill="#202022"/>
 <rect x="1022.2" y="699" width="62.7" height="48" rx="1.5" fill="#242426"/>
 <rect x="1033.2" y="700.3" width="40.7" height="35" fill="#dfe2e7"/>
 <path d="M1033.2 729.5 Q1053 727 1073.9 729.5 V735.3 H1033.2 Z" fill="#1e3c96"/>
 <path d="M1033.2 729.5 Q1053 727 1073.9 729.5" stroke="#d83030" stroke-width="0.8" fill="none"/>
 <circle cx="1038" cy="705.5" r="1.8" fill="#d83a3a"/>
 <rect x="1041" y="704" width="28" height="2.2" fill="#2a4a9a" opacity="0.8"/>
 <rect x="1041" y="707.5" width="12" height="1" fill="#2a4a9a" opacity="0.5"/>
 <rect x="1051" y="713.4" width="5" height="3.4" fill="#d82828"/>
 <rect x="1039" y="716.8" width="4.8" height="4.2" fill="#1e3c96"/>
 <rect x="1063.3" y="716.8" width="4.8" height="4.2" fill="#1e3c96"/>
 <path d="M1044 719 H1063" stroke="#b8c0cc" stroke-width="0.6"/>
 <rect x="1036" y="725" width="34" height="0.8" fill="#4a5a90" opacity="0.5"/>
 <rect x="1034.2" y="740" width="17.8" height="6.3" fill="#ecebe6"/>
 <rect x="1043" y="740" width="0.6" height="6.3" fill="#aaa"/>
 <rect x="1055.8" y="739.7" width="12" height="3.1" fill="#3fa55c"/>
 <circle cx="1025.5" cy="702" r="1.2" fill="#111"/><circle cx="1081.5" cy="702" r="1.2" fill="#111"/>
 <circle cx="1028" cy="739.5" r="1.6" fill="#111"/><circle cx="1078.8" cy="739.5" r="1.6" fill="#111"/>
 <rect x="1052" y="747" width="3.5" height="2.2" rx="1" fill="#c82020"/>

 <rect x="994" y="772.7" width="6" height="2.2" fill="#fff"/>
 <!-- switch module -->
 <rect x="688.3" y="635.8" width="79.3" height="48.2" fill="#e9eaea"/>
 <rect x="688.3" y="635.8" width="79.3" height="48.2" fill="none" stroke="#d5d5d5" stroke-width="0.6"/>
 <circle cx="693.8" cy="639.8" r="2" fill="#3a3a3a"/>
 <circle cx="762.4" cy="679.2" r="2" fill="#3a3a3a"/>
 <rect x="690.5" y="643.5" width="13" height="14" fill="#3d8c52"/>
 <rect x="696.5" y="647" width="4" height="4" fill="#f0f0f0"/><rect x="697.5" y="648" width="2" height="2" fill="#333"/>
 <path d="M688 659 L691 655.5 L691 664 Z" fill="#ddd"/>
 <rect x="690.5" y="655.5" width="8" height="9" fill="#47b04f"/>
 <circle cx="694.5" cy="658" r="1.6" fill="#e8e8e8"/><circle cx="694.5" cy="662.3" r="1.6" fill="#e8e8e8"/>
 <rect x="690.5" y="665" width="13" height="12" rx="1" fill="#1d1d1d"/>
 <rect x="705.7" y="639" width="10" height="41.3" fill="#2f8458"/>
 <rect x="715.2" y="639" width="1.6" height="41.3" fill="#f1c21b"/>
 <rect x="716.8" y="639" width="25.5" height="41.3" fill="#d9dbdb"/>
 <rect x="742.3" y="639" width="1.2" height="41.3" fill="#f1c21b"/>
 <rect x="743.5" y="639" width="7.3" height="41.3" fill="#2f8458"/>
 <path d="M743.5 668 L750.8 661 L750.8 664 L743.5 671 Z" fill="#cfe9d8"/>
 <g fill="#e8f4ec" opacity="0.8"><rect x="707.5" y="645" width="1" height="30"/><rect x="710" y="648" width="1" height="20"/><rect x="712.5" y="650" width="1" height="24"/></g>
 <g font-size="6.3" font-weight="bold" fill="#2a2a2a" text-anchor="middle" font-family="Liberation Sans, sans-serif"><text x="726.5" y="654">二</text><text x="726.5" y="660.5">主</text><text x="726.5" y="667">站</text></g>
 <rect x="731" y="645" width="1.2" height="26" fill="#6a7a70" opacity="0.5"/>
 <rect x="753.3" y="645" width="11" height="20" fill="#3da553"/>
 <g fill="#e6e6e6"><circle cx="761.5" cy="649.3" r="1.5"/><circle cx="761.5" cy="654.2" r="1.5"/><circle cx="761.5" cy="659" r="1.5"/><circle cx="761.5" cy="663.6" r="1.5"/></g>

 <!-- pump -->
 <defs>
  <linearGradient id="pumpB" x1="0" y1="0" x2="0" y2="1"><stop offset="0" stop-color="#3d92f0"/><stop offset="0.5" stop-color="#1f6fe0"/><stop offset="1" stop-color="#1650b8"/></linearGradient>
  <linearGradient id="pumpS" x1="0" y1="0" x2="1" y2="0"><stop offset="0" stop-color="#f4f4f4"/><stop offset="0.5" stop-color="#8a8a8a"/><stop offset="1" stop-color="#dcdcdc"/></linearGradient>
 </defs>
 <!-- base -->
 <path d="M731 921 L747 912 L798 920 L798 926 L789 931 L741 935 L733 930 Z" fill="#1d64d2"/>
 <path d="M731 921 L747 912 L798 920 L790 925 L741 929 Z" fill="#3b8cf0"/>
 <path d="M741 929 L790 925 L789 931 L741 935 Z" fill="#1a55bc"/>
 <rect x="752" y="931" width="8" height="4" fill="#1a55bc"/><rect x="780" y="927.5" width="8" height="4" fill="#1a55bc"/>
 <!-- motor -->
 <path d="M766 881 L793 884.5 L793 909 L766 910.5 Z" fill="url(#pumpB)"/>
 <g stroke="#1857c4" stroke-width="0.7" opacity="0.8"><path d="M768 889.5 H791 M768 893.5 H791 M768 897.5 H791 M768 901.5 H791 M768 905.5 H791"/></g>
 <ellipse cx="796.5" cy="896.7" rx="6" ry="12.8" fill="#2a7fea"/>
 <ellipse cx="797.5" cy="896.7" rx="3.8" ry="10" fill="#58a8f6"/>
 <rect x="762" y="878.5" width="20" height="8.5" rx="1" fill="#2b7be8"/>
 <rect x="764" y="880" width="16" height="2" fill="#4f9af5"/>
 <rect x="778" y="888" width="10" height="2.6" fill="#c6a878"/>
 <path d="M770 909 H780 V913 H770 Z M783 908.5 H791 V912 H783 Z" fill="#e6eef6"/>
 <!-- coupling -->
 <ellipse cx="761" cy="901" rx="8" ry="16" fill="#1a5fd0"/>
 <ellipse cx="759.5" cy="901" rx="4.5" ry="12" fill="#cfe2f8"/>
 <ellipse cx="758.5" cy="901" rx="3" ry="10" fill="#2b7de8"/>
 <!-- volute & neck -->
 <rect x="741.8" y="881" width="9.7" height="14" fill="url(#pumpB)"/>
 <ellipse cx="748.5" cy="905" rx="11.5" ry="15.5" fill="url(#pumpB)"/>
 <ellipse cx="745.7" cy="879.4" rx="13.7" ry="3" fill="#3a3a3a"/>
 <ellipse cx="745.7" cy="879" rx="11.5" ry="2" fill="#9a9a9a"/>
 <ellipse cx="734" cy="903.3" rx="5.2" ry="13.8" fill="url(#pumpS)"/>
 <ellipse cx="735" cy="903.3" rx="2.3" ry="7" fill="#505050"/>
 <path d="M745 916 L752 918 L750 925 L744 924 Z" fill="#dfe8f2"/>
</svg>

</body>
</html>
